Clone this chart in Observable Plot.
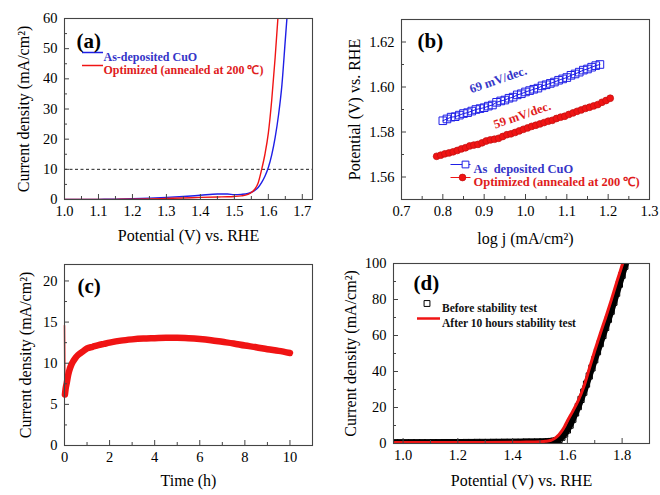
<!DOCTYPE html>
<html><head><meta charset="utf-8">
<script src="https://cdn.jsdelivr.net/npm/d3@7"></script>
<script src="https://cdn.jsdelivr.net/npm/@observablehq/plot@0.6"></script>
<style>
body{margin:0;background:#fff;}
#fig{position:relative;width:660px;height:495px;overflow:hidden;background:#fff;}
.panel{position:absolute;}
</style></head><body><div id="fig"></div>
<script>
// ---------- Panel (a): LSV ----------
const aBluePotential = [1.00,1.05,1.10,1.15,1.20,1.25,1.30,1.35,1.40,1.45,1.48,1.50,1.52,1.54,1.55,1.56,1.57,1.58,1.59,1.60,1.61,1.62,1.63,1.64,1.65,1.66];
const aBlueCurrent   = [0.0,0.0,0.05,0.1,0.25,0.45,0.7,1.0,1.4,1.8,1.8,1.6,1.7,2.0,2.4,3.0,4.0,5.6,7.7,10.6,14.8,20.5,28,38,53,68];
const aRedPotential  = [1.00,1.05,1.10,1.15,1.20,1.25,1.30,1.35,1.40,1.45,1.48,1.50,1.52,1.54,1.55,1.56,1.57,1.58,1.59,1.60,1.61,1.62,1.63,1.64];
const aRedCurrent    = [0.0,0.0,0.0,0.05,0.1,0.2,0.35,0.5,0.7,0.85,0.9,1.0,1.2,1.7,2.3,3.4,5.5,9.8,15,22,33,47,63,80];
const aThreshold = [10];
const aLegend = ["As-deposited CuO", "Optimized (annealed at 200 \u2103)"];
const aXTicks = [1.0,1.1,1.2,1.3,1.4,1.5,1.6,1.7];
const aXMinor = [1.05,1.15,1.25,1.35,1.45,1.55,1.65];
const aYTicks = [0,10,20,30,40,50,60];
const aYMinor = [5,15,25,35,45,55];

// ---------- Panel (b): Tafel ----------
const bBlueLogJ = [0.80,0.81,0.82,0.83,0.84,0.85,0.86,0.87,0.88,0.89,0.90,0.91,0.92,0.93,0.94,0.95,0.96,0.97,0.98,0.99,1.00,1.01,1.02,1.03,1.04,1.05,1.06,1.07,1.08,1.09,1.10,1.11,1.12,1.13,1.14,1.15,1.16,1.17,1.18];
const bBluePotential = [1.5850,1.5858,1.5866,1.5868,1.5875,1.5882,1.5886,1.5893,1.5900,1.5904,1.5908,1.5915,1.5920,1.5932,1.5938,1.5942,1.5950,1.5955,1.5965,1.5970,1.5978,1.5984,1.5990,1.5995,1.6005,1.6010,1.6016,1.6022,1.6030,1.6036,1.6042,1.6052,1.6058,1.6066,1.6075,1.6080,1.6088,1.6095,1.6100];
const bRedLogJ = [0.785,0.795,0.805,0.815,0.825,0.835,0.845,0.855,0.865,0.875,0.885,0.895,0.905,0.915,0.925,0.935,0.945,0.955,0.965,0.975,0.985,0.995,1.005,1.015,1.025,1.035,1.045,1.055,1.065,1.075,1.085,1.095,1.105,1.115,1.125,1.135,1.145,1.155,1.165,1.175,1.185,1.195,1.205];
const bRedPotential = [1.5692,1.5697,1.5703,1.5707,1.5712,1.5718,1.5725,1.5730,1.5738,1.5742,1.5745,1.5752,1.5760,1.5765,1.5768,1.5772,1.5780,1.5788,1.5792,1.5798,1.5805,1.5812,1.5818,1.5825,1.5830,1.5836,1.5842,1.5848,1.5852,1.5860,1.5866,1.5870,1.5878,1.5885,1.5892,1.5898,1.5905,1.5910,1.5916,1.5922,1.5932,1.5940,1.5950];
const bSlopeLabels = ["69 mV/dec.", "59 mV/dec."];
const bSlopeX = [0.934, 0.992];
const bSlopeY = [1.6032, 1.5875];
const bLegend = ["As  deposited CuO", "Optimized (annealed at 200 \u2103)"];
const bXTicks = [0.7,0.8,0.9,1.0,1.1,1.2,1.3];
const bXMinor = [0.75,0.85,0.95,1.05,1.15,1.25];
const bYTicks = [1.56,1.58,1.60,1.62];
const bYMinor = [1.55,1.57,1.59,1.61,1.63];

// ---------- Panel (c): chronoamperometry ----------
const cSpikeTime = [0, 0.02];
const cSpikeCurrent = [14.6, 6.2];
const cTime = [0.02,0.05,0.1,0.15,0.2,0.3,0.4,0.5,0.6,0.8,1.0,1.25,1.5,1.75,2.0,2.5,3.0,3.5,4.0,4.5,5.0,5.5,6.0,6.5,7.0,7.5,8.0,8.5,9.0,9.5,10.0];
const cCurrent = [6.2,6.9,7.6,8.4,9.0,9.8,10.3,10.7,11.0,11.4,11.8,12.0,12.2,12.35,12.5,12.75,12.9,13.0,13.05,13.1,13.1,13.05,12.95,12.8,12.6,12.4,12.15,11.95,11.7,11.5,11.25];
const cXTicks = [0,2,4,6,8,10];
const cXMinor = [1,3,5,7,9];
const cYTicks = [0,5,10,15,20];
const cYMinor = [2.5,7.5,12.5,17.5];

// ---------- Panel (d): stability LSV ----------
const dBeforePotential = [0.97,0.99,1.01,1.03,1.05,1.07,1.09,1.11,1.13,1.15,1.17,1.19,1.21,1.23,1.25,1.27,1.29,1.31,1.33,1.35,1.37,1.39,1.41,1.43,1.45,1.47,1.49,1.51,1.53,1.54,1.55,1.56,1.57,1.58,1.59,1.60,1.61,1.62,1.63,1.64,1.65,1.66,1.67,1.68,1.69,1.70,1.71,1.72,1.73,1.74,1.75,1.76,1.77,1.78,1.79,1.80,1.81,1.82];
const dBeforeCurrent = [0.4,0.4,0.4,0.4,0.4,0.4,0.4,0.45,0.45,0.5,0.5,0.5,0.5,0.55,0.55,0.6,0.6,0.6,0.65,0.65,0.7,0.7,0.75,0.75,0.8,0.8,0.85,0.9,1.0,1.1,1.3,1.6,2.3,3.5,5.2,7.5,10.2,13.5,17,20.5,24.5,28.5,33,37.5,42,46.5,51,55.5,60,64.5,69,73.5,78.5,83.5,88.5,93.5,98.5,103];
const dAfterPotential = [0.97,1.05,1.10,1.20,1.30,1.40,1.45,1.48,1.50,1.52,1.54,1.55,1.56,1.57,1.58,1.59,1.60,1.62,1.64,1.66,1.68,1.70,1.72,1.74,1.76,1.78,1.80,1.81];
const dAfterCurrent = [0.5,0.5,0.5,0.55,0.6,0.7,0.8,0.85,0.95,1.2,1.8,2.5,3.5,5.0,7.0,9.5,12.5,18,24,31.5,41.5,51.5,61,70,79.5,89.5,99,104];
const dLegend = ["Before stability test", "After 10 hours stability test"];
const dXTicks = [1.0,1.2,1.4,1.6,1.8];
const dXMinor = [1.1,1.3,1.5,1.7,1.9];
const dYTicks = [0,20,40,60,80,100];
const dYMinor = [10,30,50,70,90];

// ---------- styling ----------
const BLUE = "#1f1fe6", BLUE_TXT = "#3535c8", RED = "#f01414", RED_TXT = "#e01c1c", FRAME = "#444";
const SERIF = "'Liberation Serif','Times New Roman',serif";
const lineSym = {draw(ctx, size) { const r = Math.sqrt(size / Math.PI); ctx.moveTo(-r, 0); ctx.lineTo(r, 0); }};
const zip = (xs, ys) => xs.map((x, i) => ({x, y: ys[i]}));

function panel(o) {
  const m = o.margin;
  const pw = o.width - m.left - m.right, ph = o.height - m.top - m.bottom;
  const chart = Plot.plot({
    width: o.width, height: o.height,
    marginLeft: m.left, marginRight: m.right, marginTop: m.top, marginBottom: m.bottom,
    x: {domain: o.x}, y: {domain: o.y},
    style: {fontFamily: SERIF, fontSize: "14px", color: "#000", background: "transparent", overflow: "visible"},
    marks: [
      ...o.marks,
      Plot.tickX(o.xMinor, {x: d => d, insetTop: ph - 3, stroke: FRAME}),
      Plot.tickX(o.xTicks, {x: d => d, insetTop: ph - 5, stroke: FRAME}),
      Plot.tickY(o.yMinor, {y: d => d, insetRight: pw - 3, stroke: FRAME}),
      Plot.tickY(o.yTicks, {y: d => d, insetRight: pw - 5, stroke: FRAME}),
      Plot.axisX({ticks: o.xTicks, tickSize: 0, tickPadding: 6, tickFormat: o.xFormat, label: null, fontSize: 14.5}),
      Plot.axisY({ticks: o.yTicks, tickSize: 0, tickPadding: 7, tickFormat: o.yFormat, label: null, fontSize: 14.5}),
      Plot.frame({stroke: FRAME, strokeWidth: 1.1}),
      Plot.text([o.xTitle], {text: d => d, frameAnchor: "bottom", dy: o.xTitleDy, textAnchor: "middle", fontSize: 16}),
      Plot.text([o.yTitle], {text: d => d, frameAnchor: "left", dx: o.yTitleDx, rotate: -90, textAnchor: "middle", fontSize: 16}),
      Plot.text([o.tag], {text: d => d, frameAnchor: "top-left", dx: o.tagDx, dy: o.tagDy, textAnchor: "start", fontSize: 21, fontWeight: "bold"})
    ]
  });
  const div = document.createElement("div");
  div.className = "panel";
  div.style.left = o.left + "px";
  div.style.top = o.top + "px";
  div.appendChild(chart);
  document.getElementById("fig").appendChild(div);
}

// (a)
panel({
  left: 0, top: 0, width: 330, height: 250,
  margin: {left: 64, right: 18, top: 18, bottom: 51},
  x: [1.0, 1.73], y: [0, 60],
  xTicks: aXTicks, xMinor: aXMinor, yTicks: aYTicks, yMinor: aYMinor,
  xFormat: d3.format(".1f"), yFormat: d3.format("d"),
  xTitle: "Potential (V) vs. RHE", xTitleDy: 41,
  yTitle: "Current density (mA/cm\u00B2)", yTitleDx: -41,
  tag: "(a)", tagDx: 12, tagDy: 15,
  marks: [
    Plot.ruleY(aThreshold, {stroke: "#222", strokeDasharray: "3,2.5", strokeWidth: 1}),
    Plot.line(zip(aBluePotential, aBlueCurrent), {x: "x", y: "y", stroke: BLUE, strokeWidth: 1.4, curve: "monotone-x", clip: true}),
    Plot.line(zip(aRedPotential, aRedCurrent), {x: "x", y: "y", stroke: RED, strokeWidth: 1.4, curve: "monotone-x", clip: true}),
    Plot.dot([0], {frameAnchor: "top-left", dx: 28, dy: 34, symbol: lineSym, r: 10.5, stroke: BLUE, fill: "none", strokeWidth: 1.5}),
    Plot.dot([0], {frameAnchor: "top-left", dx: 28, dy: 47, symbol: lineSym, r: 10.5, stroke: RED, fill: "none", strokeWidth: 1.5}),
    Plot.text([aLegend[0]], {text: d => d, frameAnchor: "top-left", dx: 39, dy: 34, textAnchor: "start", fontSize: 12, fontWeight: "bold", fill: BLUE_TXT}),
    Plot.text([aLegend[1]], {text: d => d, frameAnchor: "top-left", dx: 39, dy: 47, textAnchor: "start", fontSize: 12, fontWeight: "bold", fill: RED_TXT})
  ]
});

// (b)
panel({
  left: 330, top: 0, width: 330, height: 250,
  margin: {left: 71, right: 11, top: 19, bottom: 51},
  x: [0.7, 1.3], y: [1.55, 1.63],
  xTicks: bXTicks, xMinor: bXMinor, yTicks: bYTicks, yMinor: bYMinor,
  xFormat: d3.format(".1f"), yFormat: d3.format(".2f"),
  xTitle: "log j (mA/cm\u00B2)", xTitleDy: 44,
  yTitle: "Potential (V) vs. RHE", yTitleDx: -47,
  tag: "(b)", tagDx: 16, tagDy: 14,
  marks: [
    Plot.line(zip(bBlueLogJ, bBluePotential), {x: "x", y: "y", stroke: BLUE, strokeWidth: 1}),
    Plot.dot(zip(bBlueLogJ, bBluePotential), {x: "x", y: "y", symbol: "square", r: 4.3, stroke: BLUE, fill: "none", strokeWidth: 1}),
    Plot.line(zip(bRedLogJ, bRedPotential), {x: "x", y: "y", stroke: RED, strokeWidth: 1}),
    Plot.dot(zip(bRedLogJ, bRedPotential), {x: "x", y: "y", symbol: "circle", r: 3.4, fill: RED, stroke: "#c01010", strokeWidth: 0.7}),
    Plot.text([0], {x: () => bSlopeX[0], y: () => bSlopeY[0], text: () => bSlopeLabels[0], rotate: -19, fontSize: 12.5, fontWeight: "bold", fill: BLUE_TXT}),
    Plot.text([0], {x: () => bSlopeX[1], y: () => bSlopeY[1], text: () => bSlopeLabels[1], rotate: -19, fontSize: 12.5, fontWeight: "bold", fill: RED_TXT}),
    Plot.dot([0], {frameAnchor: "top-left", dx: 59, dy: 145, symbol: lineSym, r: 10, stroke: BLUE, fill: "none", strokeWidth: 1}),
    Plot.dot([0], {frameAnchor: "top-left", dx: 64, dy: 145, symbol: "square", r: 3.8, stroke: BLUE, fill: "white", strokeWidth: 1}),
    Plot.dot([0], {frameAnchor: "top-left", dx: 59, dy: 158, symbol: lineSym, r: 10, stroke: RED, fill: "none", strokeWidth: 1}),
    Plot.dot([0], {frameAnchor: "top-left", dx: 61, dy: 158, symbol: "circle", r: 3.4, fill: RED, stroke: "#c01010", strokeWidth: 0.7}),
    Plot.text([bLegend[0]], {text: d => d, frameAnchor: "top-left", dx: 72, dy: 145, textAnchor: "start", fontSize: 12.5, fontWeight: "bold", fill: BLUE_TXT}),
    Plot.text([bLegend[1]], {text: d => d, frameAnchor: "top-left", dx: 72, dy: 158, textAnchor: "start", fontSize: 12.5, fontWeight: "bold", fill: RED_TXT})
  ]
});

// (c)
panel({
  left: 0, top: 250, width: 330, height: 245,
  margin: {left: 64, right: 18, top: 14, bottom: 50},
  x: [0, 11], y: [0, 22],
  xTicks: cXTicks, xMinor: cXMinor, yTicks: cYTicks, yMinor: cYMinor,
  xFormat: d3.format("d"), yFormat: d3.format("d"),
  xTitle: "Time (h)", xTitleDy: 40,
  yTitle: "Current density (mA/cm\u00B2)", yTitleDx: -39,
  tag: "(c)", tagDx: 13, tagDy: 14,
  marks: [
    Plot.line(zip(cSpikeTime, cSpikeCurrent), {x: "x", y: "y", stroke: RED, strokeWidth: 1.5}),
    Plot.line(zip(cTime, cCurrent), {x: "x", y: "y", stroke: RED, strokeWidth: 6.5, curve: "monotone-x"})
  ]
});

// (d)
panel({
  left: 330, top: 250, width: 330, height: 245,
  margin: {left: 63, right: 11, top: 13, bottom: 52},
  x: [0.965, 1.9], y: [0, 100],
  xTicks: dXTicks, xMinor: dXMinor, yTicks: dYTicks, yMinor: dYMinor,
  xFormat: d3.format(".1f"), yFormat: d3.format("d"),
  xTitle: "Potential (V) vs. RHE", xTitleDy: 42,
  yTitle: "Current density (mA/cm\u00B2)", yTitleDx: -42.5,
  tag: "(d)", tagDx: 20, tagDy: 12,
  marks: [
    Plot.line(zip(dBeforePotential, dBeforeCurrent), {x: "x", y: "y", stroke: "#000", strokeWidth: 6.5, curve: "monotone-x", clip: true}),
    Plot.dot(zip(dBeforePotential, dBeforeCurrent), {x: "x", y: "y", symbol: "square", r: 3.5, stroke: "#000", fill: "none", strokeWidth: 1, clip: true}),
    Plot.line(zip(dAfterPotential, dAfterCurrent), {x: "x", y: "y", stroke: RED, strokeWidth: 3, curve: "monotone-x", clip: true}),
    Plot.dot([0], {frameAnchor: "top-left", dx: 33.5, dy: 40, symbol: "square", r: 3.3, stroke: "#000", fill: "none", strokeWidth: 1}),
    Plot.dot([0], {frameAnchor: "top-left", dx: 35, dy: 55, symbol: lineSym, r: 11.5, stroke: RED, fill: "none", strokeWidth: 2.5}),
    Plot.text([dLegend[0]], {text: d => d, frameAnchor: "top-left", dx: 48.5, dy: 40, textAnchor: "start", fontSize: 11.5, fontWeight: "bold", fill: "#111"}),
    Plot.text([dLegend[1]], {text: d => d, frameAnchor: "top-left", dx: 48.5, dy: 55, textAnchor: "start", fontSize: 11.5, fontWeight: "bold", fill: "#111"})
  ]
});
</script></body></html>
